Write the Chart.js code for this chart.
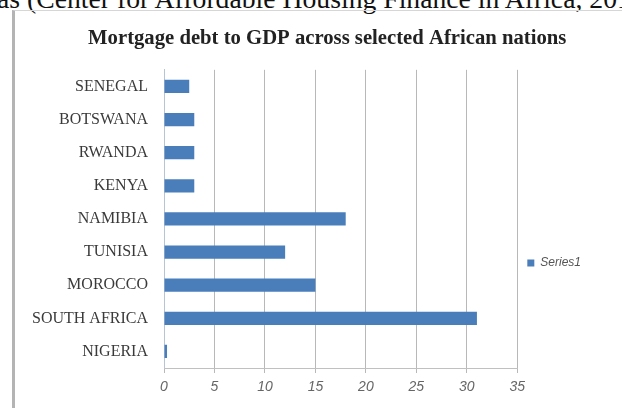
<!DOCTYPE html>
<html>
<head>
<meta charset="utf-8">
<script src="https://cdn.jsdelivr.net/npm/chart.js@4.4.1/dist/chart.umd.min.js"></script>
<style>
  html, body { margin: 0; padding: 0; background: #fff; overflow: hidden; width: 622px; height: 408px; }
  #caption {
    position: absolute; left: -3px; top: -17px; white-space: nowrap;
    font-family: 'Liberation Serif', serif; font-size: 27.7px; color: #111;
  }
  #frame {
    position: absolute; left: 12px; top: 10px; width: 640px; height: 420px;
    border-left: 3px solid #b4b4b4; border-top: 1px solid #d6d6d6;
  }
  #wrap { position: absolute; left: 12px; top: 10px; }
</style>
</head>
<body>
<div id="caption">as (Center for Affordable Housing Finance in Africa, 2013)</div>
<div id="frame"></div>
<div id="wrap"><canvas id="chart" width="610" height="506"></canvas></div>
<script>
const countries = ['SENEGAL', 'BOTSWANA', 'RWANDA', 'KENYA', 'NAMIBIA', 'TUNISIA', 'MOROCCO', 'SOUTH AFRICA', 'NIGERIA'];
const series1 = [2.5, 3, 3, 3, 18, 12, 15, 31, 0.3];
const xTicks = [0, 5, 10, 15, 20, 25, 30, 35];

const ctx = document.getElementById('chart').getContext('2d');

new Chart(ctx, {
  type: 'bar',
  data: {
    labels: countries,
    datasets: [{
      label: 'Series1',
      data: series1,
      backgroundColor: '#4A7EBB',
      borderWidth: 0,
      barPercentage: 0.8,
      categoryPercentage: 0.5
    }]
  },
  options: {
    indexAxis: 'y',
    responsive: false,
    animation: false,
    layout: { padding: { left: 10, right: 31, bottom: 0 } },
    plugins: {
      title: {
        display: true,
        // leading spaces nudge the title right, the reference centres it a bit off the canvas middle
        text: '        Mortgage debt to GDP across selected African nations',
        color: '#222',
        font: { family: 'Liberation Serif', size: 20.7, weight: 'bold' },
        padding: { top: 16, bottom: 19 }
      },
      legend: {
        position: 'right',
        labels: {
          boxWidth: 7,
          boxHeight: 7,
          color: '#555',
          font: { family: 'Liberation Sans', size: 12, style: 'italic' },
          padding: 10
        }
      },
      tooltip: { enabled: false }
    },
    scales: {
      x: {
        min: 0,
        max: 35,
        afterBuildTicks: axis => { axis.ticks = xTicks.map(v => ({ value: v })); },
        afterFit: axis => { axis.height = 148; },
        grid: { color: '#b8b8b8', tickLength: 5 },
        border: { color: '#c0c0c0' },
        ticks: {
          color: '#666',
          padding: 6,
          font: { family: 'Liberation Sans', size: 14, style: 'italic' }
        }
      },
      y: {
        afterFit: axis => { axis.width = 142; },
        grid: { display: false },
        border: { color: '#b8c4d4' },
        ticks: {
          color: '#3a3a3a',
          padding: 8,
          font: { family: 'Liberation Serif', size: 16 }
        }
      }
    }
  }
});
</script>
</body>
</html>
